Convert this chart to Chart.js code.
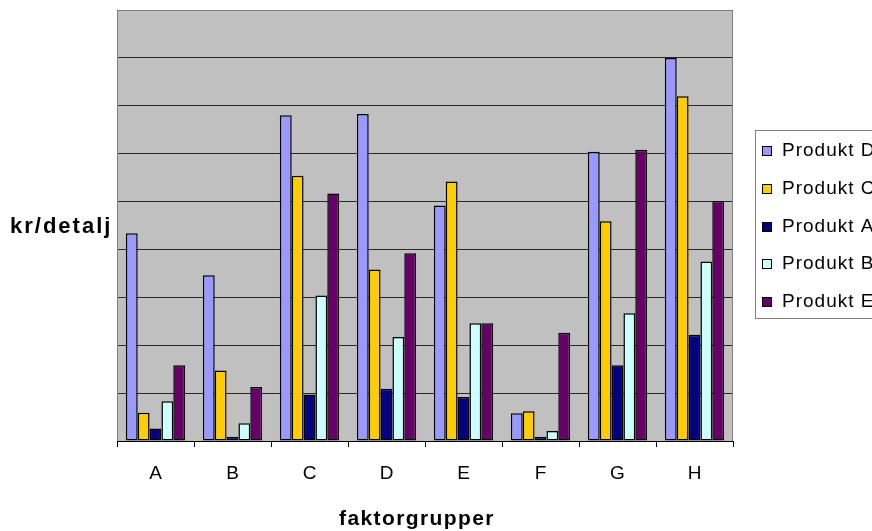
<!DOCTYPE html>
<html>
<head>
<meta charset="utf-8">
<script src="https://cdn.jsdelivr.net/npm/chart.js@4.4.1/dist/chart.umd.min.js"></script>
<style>
    html, body { margin: 0; padding: 0; background: #fff; }
    #wrap { width: 872px; height: 531px; }
</style>
</head>
<body>
<div id="wrap"><canvas id="myChart" width="872" height="531"></canvas></div>
<script>
// categories and series values (in grid units)
var groups = ['A', 'B', 'C', 'D', 'E', 'F', 'G', 'H'];
var seriesNames = ['Produkt D', 'Produkt C', 'Produkt A', 'Produkt B', 'Produkt E'];
var seriesColors = ['#9999ff', '#ffcc00', '#000080', '#ccffff', '#660066'];
var produktD = [4.34, 3.46, 6.80, 6.83, 4.92, 0.58, 6.04, 8.00];
var produktC = [0.59, 1.47, 5.54, 3.58, 5.42, 0.62, 4.59, 7.20];
var produktA = [0.26, 0.09, 0.97, 1.09, 0.92, 0.09, 1.58, 2.22];
var produktB = [0.83, 0.37, 3.04, 2.17, 2.46, 0.21, 2.67, 3.75];
var produktE = [1.58, 1.13, 5.17, 3.92, 2.46, 2.26, 6.08, 5.01];
var seriesValues = [produktD, produktC, produktA, produktB, produktE];

var yTitle = 'kr/detalj';
var xTitle = 'faktorgrupper';

var datasets = seriesNames.map(function (name, i) {
    return {
        label: name,
        data: seriesValues[i],
        backgroundColor: seriesColors[i],
        borderColor: '#000',
        borderWidth: 1.5,
        borderSkipped: false
    };
});

// gray plot background + frame, titles, boxed legend
var excelLook = {
    id: 'excelLook',
    beforeDraw: function (chart) {
        var ctx = chart.ctx;
        var a = chart.chartArea;
        ctx.save();
        ctx.fillStyle = '#c0c0c0';
        ctx.fillRect(a.left, a.top, a.right - a.left, a.bottom - a.top);
        ctx.restore();
    },
    afterDraw: function (chart) {
        var ctx = chart.ctx;
        var a = chart.chartArea;
        ctx.save();
        ctx.strokeStyle = '#808080';
        ctx.lineWidth = 1;
        ctx.beginPath();
        ctx.moveTo(a.left + 0.5, a.bottom);
        ctx.lineTo(a.left + 0.5, a.top + 0.5);
        ctx.lineTo(a.right - 0.5, a.top + 0.5);
        ctx.lineTo(a.right - 0.5, a.bottom);
        ctx.stroke();

        // axis titles
        ctx.fillStyle = '#000';
        ctx.textBaseline = 'alphabetic';
        ctx.textAlign = 'left';
        ctx.font = 'bold 22px "Liberation Sans", Arial, sans-serif';
        ctx.letterSpacing = '2px';
        ctx.fillText(yTitle, 10, 233);
        ctx.font = 'bold 21px "Liberation Sans", Arial, sans-serif';
        ctx.letterSpacing = '1.4px';
        ctx.fillText(xTitle, 339, 525);

        // legend box
        ctx.letterSpacing = '1px';
        ctx.fillStyle = '#fff';
        ctx.fillRect(755, 130, 140, 188);
        ctx.strokeStyle = '#808080';
        ctx.strokeRect(755.5, 130.5, 140, 188);
        ctx.font = '19px "Liberation Sans", Arial, sans-serif';
        chart.data.datasets.forEach(function (ds, i) {
            var y = Math.round(156 + i * 37.75);
            var top = y - 10;
            ctx.fillStyle = ds.backgroundColor;
            ctx.fillRect(762, top, 10, 10);
            ctx.strokeStyle = '#000';
            ctx.strokeRect(762.5, top + 0.5, 9, 9);
            ctx.fillStyle = '#000';
            ctx.fillText(ds.label, 782, y);
        });
        ctx.restore();
    }
};

var ctx = document.getElementById('myChart').getContext('2d');
var myChart = new Chart(ctx, {
    type: 'bar',
    data: {
        labels: groups,
        datasets: datasets
    },
    options: {
        responsive: false,
        animation: false,
        layout: {
            padding: { left: 117, right: 139, top: 10, bottom: 0 }
        },
        datasets: {
            bar: {
                categoryPercentage: 0.77,
                barPercentage: 1.0
            }
        },
        scales: {
            x: {
                afterFit: function (scale) { scale.height = 90; },
                grid: {
                    drawOnChartArea: false,
                    drawTicks: true,
                    tickLength: 6,
                    color: '#000'
                },
                border: { color: '#000' },
                ticks: {
                    color: '#000',
                    padding: 15,
                    font: { family: '"Liberation Sans", Arial, sans-serif', size: 19 }
                }
            },
            y: {
                min: 0,
                max: 9,
                ticks: { display: false, stepSize: 1 },
                grid: {
                    drawTicks: false,
                    color: '#2a2a2a',
                    lineWidth: 1
                },
                border: { display: false }
            }
        },
        plugins: {
            legend: { display: false },
            tooltip: { enabled: false }
        }
    },
    plugins: [excelLook]
});
</script>
</body>
</html>
